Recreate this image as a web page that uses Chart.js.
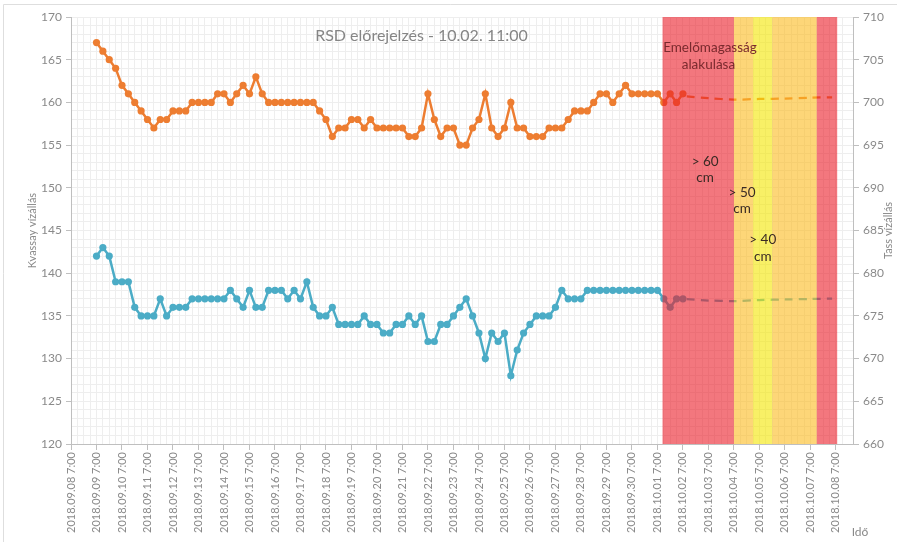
<!DOCTYPE html>
<html>
<head>
<meta charset="utf-8">
<script src="https://cdn.jsdelivr.net/npm/chart.js@4.4.0/dist/chart.umd.min.js"></script>
<style>
    html, body { margin: 0; padding: 0; background: #fff; }
    #wrap { width: 897px; height: 542px; }
</style>
</head>
<body>
<div id="wrap"><canvas id="RSD"></canvas></div>
<script>
// napok 2018.09.08 7:00-tól, 6 óránként mért értékek 09.09 7:00-tól
const startDay = 1;
const stepDay = 0.25;

// Kvassay vízállás (bal tengely)
const kvassay = [167, 166, 165, 164, 162, 161, 160, 159, 158, 157, 158, 158, 159, 159, 159, 160,
    160, 160, 160, 161, 161, 160, 161, 162, 161, 163, 161, 160, 160, 160, 160, 160,
    160, 160, 160, 159, 158, 156, 157, 157, 158, 158, 157, 158, 157, 157, 157, 157,
    157, 156, 156, 157, 161, 158, 156, 157, 157, 155, 155, 157, 158, 161, 157, 156,
    157, 160, 157, 157, 156, 156, 156, 157, 157, 157, 158, 159, 159, 159, 160, 161,
    161, 160, 161, 162, 161, 161, 161, 161, 161, 160, 161, 160, 161];

// Tass vízállás (jobb tengely)
const tass = [682, 683, 682, 679, 679, 679, 676, 675, 675, 675, 677, 675, 676, 676, 676, 677,
    677, 677, 677, 677, 677, 678, 677, 676, 678, 676, 676, 678, 678, 678, 677, 678,
    677, 679, 676, 675, 675, 676, 674, 674, 674, 674, 675, 674, 674, 673, 673, 674,
    674, 675, 674, 675, 672, 672, 674, 674, 675, 676, 677, 675, 673, 670, 673, 672,
    673, 668, 671, 673, 674, 675, 675, 675, 676, 678, 677, 677, 677, 678, 678, 678,
    678, 678, 678, 678, 678, 678, 678, 678, 678, 677, 676, 677, 677];

// előrejelzés (szaggatott)
const forecastDays = [24.15, 25, 26, 27, 28, 29, 29.85];
const kvassayForecast = [160.7, 160.5, 160.33, 160.4, 160.45, 160.55, 160.6];
const tassForecast = [676.95, 676.8, 676.74, 676.85, 676.93, 676.98, 677.02];

// emelőmagasság sávok
const bandStart = [23.2, 26.0, 26.75, 27.5, 29.25];
const bandEnd = [26.0, 26.75, 27.5, 29.25, 30.05];
const bandColors = ['rgba(235,28,40,0.6)', 'rgba(252,187,30,0.6)', 'rgba(243,230,0,0.6)',
    'rgba(252,187,30,0.6)', 'rgba(235,28,40,0.6)'];

const tickLabels = ['2018.09.08 7:00', '2018.09.09 7:00', '2018.09.10 7:00', '2018.09.11 7:00',
    '2018.09.12 7:00', '2018.09.13 7:00', '2018.09.14 7:00', '2018.09.15 7:00', '2018.09.16 7:00',
    '2018.09.17 7:00', '2018.09.18 7:00', '2018.09.19 7:00', '2018.09.20 7:00', '2018.09.21 7:00',
    '2018.09.22 7:00', '2018.09.23 7:00', '2018.09.24 7:00', '2018.09.25 7:00', '2018.09.26 7:00',
    '2018.09.27 7:00', '2018.09.28 7:00', '2018.09.29 7:00', '2018.09.30 7:00', '2018.10.01 7:00',
    '2018.10.02 7:00', '2018.10.03 7:00', '2018.10.04 7:00', '2018.10.05 7:00', '2018.10.06 7:00',
    '2018.10.07 7:00', '2018.10.08 7:00'];

// feliratok a sávokban [szöveg, nap, érték a bal tengelyen]
const notes = [
    ['Emelőmagasság', 25.06, 166.4],
    ['alakulása', 25.0, 164.4],
    ['> 60', 24.87, 153.1],
    ['cm', 24.87, 151.2],
    ['> 50', 26.32, 149.45],
    ['cm', 26.32, 147.6],
    ['> 40', 27.13, 143.95],
    ['cm', 27.13, 141.95]
];

const FONT = 'Lato, "Open Sans", sans-serif';
const GREY = '#8a8a8a';

function series(values) {
    var out = [];
    for (var i = 0; i < values.length; i++) {
        out.push({ x: startDay + i * stepDay, y: values[i] });
    }
    return out;
}
function pairs(days, values) {
    var out = [];
    for (var i = 0; i < days.length; i++) out.push({ x: days[i], y: values[i] });
    return out;
}

const extras = {
    id: 'extras',
    beforeDraw(chart) {
        const ctx = chart.ctx;
        ctx.save();
        ctx.strokeStyle = '#dedede';
        ctx.lineWidth = 1;
        ctx.beginPath();
        ctx.moveTo(3.5, 542); ctx.lineTo(3.5, 4.5); ctx.lineTo(897, 4.5);
        ctx.stroke();
        ctx.restore();
    },
    afterDatasetsDraw(chart) {
        const { ctx, chartArea: a, scales: { x } } = chart;
        ctx.save();
        for (let i = 0; i < bandStart.length; i++) {
            const x0 = x.getPixelForValue(bandStart[i]);
            const x1 = x.getPixelForValue(bandEnd[i]);
            ctx.fillStyle = bandColors[i];
            ctx.fillRect(x0, a.top, x1 - x0, a.bottom - a.top);
        }
        ctx.restore();
    },
    afterDraw(chart) {
        const { ctx, chartArea: a, scales: { x, y } } = chart;
        ctx.save();
        ctx.textAlign = 'center';
        ctx.textBaseline = 'middle';

        ctx.fillStyle = '#858585';
        ctx.font = '16px ' + FONT;
        ctx.fillText('RSD előrejelzés - 10.02. 11:00', 421.5, 36);

        for (let i = 0; i < notes.length; i++) {
            ctx.fillStyle = i < 2 ? '#7a2a2e' : '#3a2a24';
            ctx.font = '13.5px ' + FONT;
            ctx.fillText(notes[i][0], x.getPixelForValue(notes[i][1]), y.getPixelForValue(notes[i][2]));
        }

        ctx.fillStyle = GREY;
        ctx.font = '11px ' + FONT;
        const mid = (a.top + a.bottom) / 2;
        ctx.save();
        ctx.translate(32, mid);
        ctx.rotate(-Math.PI / 2);
        ctx.fillText('Kvassay vízállás', 0, 0);
        ctx.restore();
        ctx.save();
        ctx.translate(888, mid);
        ctx.rotate(-Math.PI / 2);
        ctx.fillText('Tass vízállás', 0, 0);
        ctx.restore();
        ctx.font = '12px ' + FONT;
        ctx.fillText('Idő', 860, 532);
        ctx.restore();
    }
};

function onlyMultiples(step) {
    return function (scale) {
        scale.ticks = scale.ticks.filter(t => Math.abs(t.value / step - Math.round(t.value / step)) < 1e-6);
    };
}

new Chart(document.getElementById('RSD'), {
    type: 'line',
    data: {
        datasets: [
            {
                label: 'Kvassay',
                data: series(kvassay),
                yAxisID: 'y',
                borderColor: '#ED7D31',
                backgroundColor: '#ED7D31',
                borderWidth: 2.5,
                pointRadius: 3.6,
                pointBorderWidth: 0,
                tension: 0
            },
            {
                label: 'Tass',
                data: series(tass),
                yAxisID: 'y1',
                borderColor: '#4BACC6',
                backgroundColor: '#4BACC6',
                borderWidth: 2.5,
                pointRadius: 3.6,
                pointBorderWidth: 0,
                tension: 0
            },
            {
                label: 'Kvassay előrejelzés',
                data: pairs(forecastDays, kvassayForecast),
                yAxisID: 'y',
                borderColor: '#ED7D31',
                borderWidth: 2.25,
                borderDash: [8, 6],
                pointRadius: 0,
                tension: 0.3
            },
            {
                label: 'Tass előrejelzés',
                data: pairs(forecastDays, tassForecast),
                yAxisID: 'y1',
                borderColor: '#4BACC6',
                borderWidth: 2.25,
                borderDash: [8, 6],
                pointRadius: 0,
                tension: 0.3
            }
        ]
    },
    options: {
        responsive: true,
        maintainAspectRatio: false,
        animation: false,
        devicePixelRatio: 1,
        layout: { padding: { top: 17, left: 0, right: 0, bottom: 0 } },
        plugins: {
            legend: { display: false },
            tooltip: { enabled: false }
        },
        scales: {
            x: {
                type: 'linear',
                position: 'bottom',
                min: 0,
                max: 30.67,
                afterBuildTicks: onlyMultiples(1),
                afterFit: s => { s.height = 98; },
                ticks: {
                    stepSize: 1,
                    autoSkip: false,
                    maxRotation: 90,
                    minRotation: 90,
                    padding: 2,
                    color: GREY,
                    font: { family: FONT, size: 11 },
                    callback: v => tickLabels[Math.round(v)]
                },
                grid: { color: '#d9d9d9', tickLength: 6, tickColor: '#bfbfbf' },
                border: { color: '#bfbfbf' }
            },
            x2: {
                type: 'linear',
                position: 'bottom',
                min: 0,
                max: 30.67,
                z: -1,
                afterBuildTicks: onlyMultiples(0.25),
                afterFit: s => { s.height = 0; },
                ticks: { stepSize: 0.25, display: false },
                grid: { color: '#eeeeee', drawTicks: false },
                border: { display: false }
            },
            y: {
                position: 'left',
                min: 120,
                max: 170,
                afterFit: s => { s.width = 71; },
                ticks: {
                    stepSize: 5,
                    padding: 4,
                    color: GREY,
                    font: { family: FONT, size: 12 }
                },
                grid: { color: '#d9d9d9', tickLength: 5, tickColor: '#bfbfbf' },
                border: { color: '#bfbfbf' }
            },
            y2: {
                position: 'left',
                min: 120,
                max: 170,
                z: -1,
                afterFit: s => { s.width = 0; },
                ticks: { stepSize: 1, display: false },
                grid: { color: '#eeeeee', drawTicks: false },
                border: { display: false }
            },
            y1: {
                position: 'right',
                min: 660,
                max: 710,
                afterFit: s => { s.width = 44; },
                ticks: {
                    stepSize: 5,
                    padding: 4,
                    color: GREY,
                    font: { family: FONT, size: 12 }
                },
                grid: { drawOnChartArea: false, tickLength: 6, tickColor: '#bfbfbf' },
                border: { color: '#bfbfbf' }
            }
        }
    },
    plugins: [extras]
});
</script>
</body>
</html>
